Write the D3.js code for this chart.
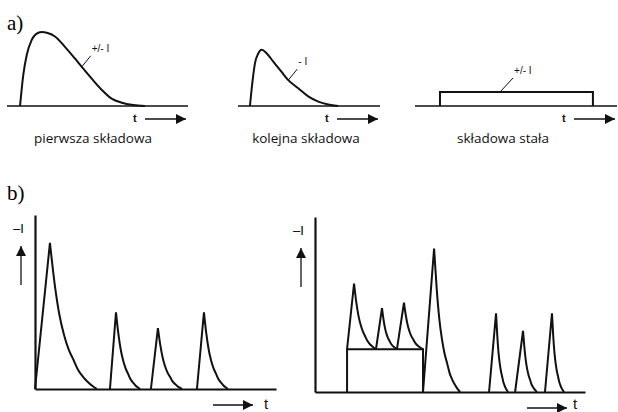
<!DOCTYPE html>
<html>
<head>
<meta charset="utf-8">
<script src="https://cdn.jsdelivr.net/npm/d3@7"></script>
<style>
  body { margin: 0; background: #fff; }
  svg { display: block; }
</style>
</head>
<body>
<svg id="fig" width="618" height="412"></svg>
<script>
"use strict";

// ---- data (time in arbitrary units, amplitude as fraction of axis height) ----

// a) first component: [time, amplitude]
var firstComponent = [[0.72, 0], [0.90, 0.42], [1.09, 0.69], [1.36, 0.89], [1.73, 0.99],
  [1.93, 1.0], [2.2, 0.99], [2.65, 0.94], [3.20, 0.80], [3.76, 0.64], [4.13, 0.53],
  [4.68, 0.37], [5.23, 0.22], [5.78, 0.10], [6.34, 0.045], [6.98, 0.014], [7.62, 0]];

// a) next component
var nextComponent = [[0.66, 0], [0.81, 0.35], [0.94, 0.58], [1.12, 0.71], [1.31, 0.76],
  [1.59, 0.71], [1.95, 0.60], [2.41, 0.46], [2.78, 0.35], [3.33, 0.24], [3.88, 0.13],
  [4.44, 0.06], [4.99, 0.02], [5.54, 0]];

// a) constant component: start, end, level
var constantComponent = [1.38, 9.83, 0.19];

// label anchors on each curve: [time, amplitude]
var labelAnchors = [[4.13, 0.53], [2.78, 0.35], [4.7, 0.19]];
var labelTexts = ["+/- I", "- I", "+/- I"];
var captions = ["pierwsza składowa", "kolejna składowa", "składowa stała"];

// b) spikes: [start, peak time, peak amplitude, end, base level]
var spikesLeft = [
  [0, 6.2, 0.84, 25.7, 0],
  [31.1, 33.6, 0.44, 43.6, 0],
  [48.1, 51.0, 0.35, 61.0, 0],
  [67.2, 70.1, 0.44, 80.1, 0]
];
var spikesRight = [
  [13.3, 16.2, 0.62, 25.3, 0.245],
  [25.3, 27.8, 0.48, 34.0, 0.245],
  [34.0, 36.9, 0.51, 44.8, 0.245],
  [44.8, 49.4, 0.82, 60.2, 0],
  [72.2, 75.1, 0.45, 80.1, 0],
  [83.0, 86.3, 0.35, 92.1, 0],
  [95.4, 98.3, 0.45, 103.3, 0]
];
// b) constant step under the first spikes: start, end, level
var stepRight = [13.3, 44.8, 0.245];

// decay profile from peak (1) to end (0), equal steps in time
var decayShape = [1, 0.72, 0.51, 0.37, 0.27, 0.20, 0.13, 0.085, 0.05, 0.022, 0];

// ---- drawing ----
var svg = d3.select("#fig");
var ink = "#111";

var defs = svg.append("defs");
defs.append("marker")
  .attr("id", "head")
  .attr("viewBox", "0 0 10 10")
  .attr("refX", 10).attr("refY", 5)
  .attr("markerWidth", 10).attr("markerHeight", 10)
  .attr("markerUnits", "userSpaceOnUse")
  .attr("orient", "auto")
  .append("path")
  .attr("d", "M0,0L10,5L0,10Z")
  .style("fill", ink);

function arrow(x1, y1, x2, y2, w) {
  svg.append("line")
    .attr("x1", x1).attr("y1", y1).attr("x2", x2).attr("y2", y2)
    .style("stroke", ink).style("stroke-width", w)
    .attr("marker-end", "url(#head)");
}

// panel a scales
var yA = d3.scaleLinear().domain([0, 1]).range([106, 32]);
var xA = [
  d3.scaleLinear().domain([0, 10]).range([7, 188]),
  d3.scaleLinear().domain([0, 7.85]).range([238, 380]),
  d3.scaleLinear().domain([0, 11.16]).range([415, 617])
];
var captionX = [93, 306, 503];

svg.append("text").text("a)")
  .attr("x", 7).attr("y", 30)
  .style("font-family", "Liberation Serif").style("font-size", "21px");
svg.append("text").text("b)")
  .attr("x", 7).attr("y", 200)
  .style("font-family", "Liberation Serif").style("font-size", "21px");

xA.forEach(function (x, i) {
  // baseline
  svg.append("line")
    .attr("x1", x.range()[0]).attr("x2", x.range()[1])
    .attr("y1", yA(0)).attr("y2", yA(0))
    .style("stroke", ink).style("stroke-width", 1.6);

  // t arrow and caption
  var right = x.range()[1];
  svg.append("text").text("t")
    .attr("x", right - 55).attr("y", 122)
    .style("font-family", "Liberation Sans").style("font-weight", "bold")
    .style("font-size", "11px").style("fill", ink);
  arrow(right - 43, 119, right - 2, 119, 1.3);

  svg.append("text").text(captions[i])
    .attr("x", captionX[i]).attr("y", 143)
    .attr("text-anchor", "middle")
    .style("font-family", "Open Sans").style("font-size", "13.5px").style("fill", ink);

  // label with leader line
  var ax = x(labelAnchors[i][0]), ay = yA(labelAnchors[i][1]);
  var dx = i === 2 ? 13 : 9, dy = i === 2 ? -14 : -11;
  svg.append("line")
    .attr("x1", ax).attr("y1", ay).attr("x2", ax + dx).attr("y2", ay + dy)
    .style("stroke", ink).style("stroke-width", 1);
  svg.append("text").text(labelTexts[i])
    .attr("x", ax + dx + 1).attr("y", ay + dy - 4)
    .style("font-family", "Liberation Sans").style("font-size", "10px").style("fill", ink);
});

var lineA = function (x) {
  return d3.line()
    .x(function (d) { return x(d[0]); })
    .y(function (d) { return yA(d[1]); })
    .curve(d3.curveMonotoneX);
};

svg.append("path")
  .attr("d", lineA(xA[0])(firstComponent))
  .style("fill", "none").style("stroke", ink).style("stroke-width", 2);
svg.append("path")
  .attr("d", lineA(xA[1])(nextComponent))
  .style("fill", "none").style("stroke", ink).style("stroke-width", 2);

var c = constantComponent;
svg.append("path")
  .attr("d", d3.line()([[xA[2](c[0]), yA(0)], [xA[2](c[0]), yA(c[2])],
    [xA[2](c[1]), yA(c[2])], [xA[2](c[1]), yA(0)]]))
  .style("fill", "none").style("stroke", ink).style("stroke-width", 2);

// panel b
function drawSpikes(x, y, spikes, step, labelX, tX, tLabelX) {
  svg.append("g")
    .attr("transform", "translate(0," + y(0) + ")")
    .call(d3.axisBottom(x).ticks(0).tickSizeOuter(0))
    .select(".domain").style("stroke", ink).style("stroke-width", 2.2);
  svg.append("g")
    .attr("transform", "translate(" + x(0) + ",0)")
    .call(d3.axisLeft(y).ticks(0).tickSizeOuter(0))
    .select(".domain").style("stroke", ink).style("stroke-width", 2.2);

  if (step) {
    svg.append("path")
      .attr("d", d3.line()([[x(step[0]), y(0)], [x(step[0]), y(step[2])],
        [x(step[1]), y(step[2])], [x(step[1]), y(0)]]))
      .style("fill", "none").style("stroke", ink).style("stroke-width", 2);
  }

  var decayLine = d3.line()
    .x(function (d) { return x(d[0]); })
    .y(function (d) { return y(d[1]); })
    .curve(d3.curveMonotoneX);

  spikes.forEach(function (s) {
    var rise = [[s[0], s[4]], [s[1], s[2]]];
    var decay = decayShape.map(function (f, k) {
      return [s[1] + (s[3] - s[1]) * k / (decayShape.length - 1), s[4] + (s[2] - s[4]) * f];
    });
    svg.append("path")
      .attr("d", decayLine(rise) + decayLine(decay))
      .style("fill", "none").style("stroke", ink).style("stroke-width", 2)
      .style("stroke-linejoin", "miter");
  });

  // -I label with up arrow
  svg.append("text").text("\u2013I")
    .attr("x", labelX - 8).attr("y", y(1) + 18)
    .style("font-family", "Liberation Sans").style("font-size", "13px").style("fill", "#000");
  arrow(labelX, y(1) + 70, labelX, y(1) + 31, 1.3);

  // t arrow
  arrow(tX, y(0) + 16, tX + 40, y(0) + 16, 1.3);
  svg.append("text").text("t")
    .attr("x", tLabelX).attr("y", Math.min(y(0) + 20, 409))
    .style("font-family", "Liberation Sans").style("font-size", "15px").style("fill", ink);
}

var xB1 = d3.scaleLinear().domain([0, 100]).range([35, 276]);
var yB1 = d3.scaleLinear().domain([0, 1]).range([389, 215]);
var xB2 = d3.scaleLinear().domain([0, 112]).range([315, 585]);
var yB2 = d3.scaleLinear().domain([0, 1]).range([392, 217]);

drawSpikes(xB1, yB1, spikesLeft, null, 21, 213, 264);
drawSpikes(xB2, yB2, spikesRight, stepRight, 301, 527, 573);
</script>
</body>
</html>
